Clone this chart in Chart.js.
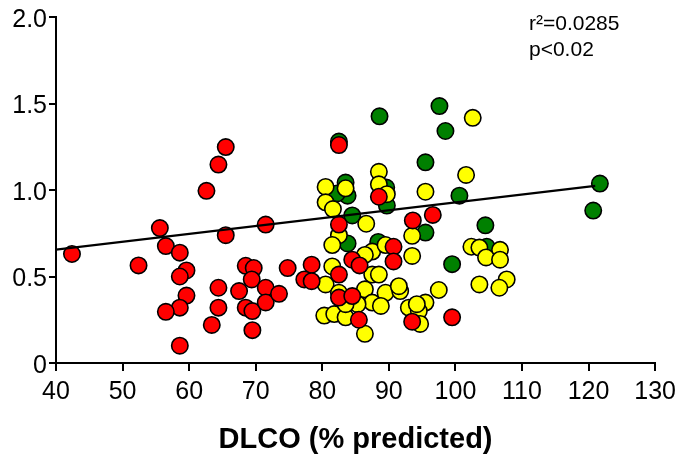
<!DOCTYPE html>
<html>
<head>
<meta charset="utf-8">
<script src="https://cdn.jsdelivr.net/npm/chart.js@4/dist/chart.umd.min.js"></script>
<style>
html,body{margin:0;padding:0;background:#fff;}
#wrap{width:682px;height:465px;position:relative;}
</style>
</head>
<body>
<div id="wrap"><canvas id="c" width="682" height="465"></canvas></div>
<script>
// Red group (DLCO %, value)
const redX = [42.4,52.4,55.6,56.5,58.6,59.6,58.6,59.6,58.6,56.5,58.6,62.6,64.4,65.5,65.5,64.4,64.4,63.4,67.5,68.5,69.7,69.4,68.5,69.5,69.5,71.5,71.5,73.5,71.5,74.8,
  82.5,88.5,82.5,93.6,96.6,78.4,77.3,78.4,82.5,84.5,85.6,90.7,90.7,93.5,99.5,85.5,82.5,84.5];
const redY = [0.63,0.564,0.78,0.676,0.638,0.535,0.50,0.39,0.32,0.296,0.10,0.995,1.147,1.248,0.739,0.435,0.32,0.22,0.416,0.562,0.549,0.483,0.32,0.30,0.19,0.435,0.35,0.40,0.80,0.549,
  1.26,0.961,0.80,0.824,0.856,0.568,0.483,0.473,0.511,0.597,0.564,0.672,0.587,0.239,0.264,0.25,0.378,0.387];
// Yellow group
const yellowX = [102.6,101.6,95.5,88.5,88.5,89.7,80.5,83.5,80.5,81.6,86.6,82.5,93.5,81.5,81.5,80.5,87.5,86.4,89.5,93.5,87.5,88.5,86.4,89.5,91.7,91.5,87.5,88.8,95.5,97.5,93.0,94.5,94.7,80.3,81.8,83.5,86.4,82.5,85.3,83.5,94.2,102.4,103.6,106.7,104.6,106.7,107.7,103.6,106.6];
const yellowY = [1.417,1.087,0.99,1.105,1.033,0.976,1.018,1.01,0.929,0.89,0.805,0.739,0.735,0.682,0.558,0.454,0.644,0.625,0.682,0.619,0.511,0.511,0.426,0.406,0.416,0.444,0.349,0.33,0.349,0.422,0.32,0.30,0.226,0.274,0.283,0.264,0.169,0.406,0.34,0.34,0.34,0.672,0.667,0.654,0.61,0.597,0.483,0.454,0.435];
// Green group
const greenX = [88.6,97.6,98.5,82.5,95.5,100.6,89.6,89.7,83.5,83.8,82.2,84.5,95.5,104.5,83.8,88.4,99.5,121.7,120.7,104.7];
const greenY = [1.426,1.485,1.341,1.28,1.16,0.967,1.014,0.91,1.043,0.967,0.98,0.853,0.754,0.796,0.691,0.70,0.571,1.037,0.881,0.672];
// Regression line end points
const fitX = [40,121];
const fitY = [0.655,1.024];
// Axis ticks
const xTicks = [40,50,60,70,80,90,100,110,120,130];
const yTicks = [0,0.5,1.0,1.5,2.0];
const annotations = ['r²=0.0285','p<0.02'];
const xTitle = 'DLCO (% predicted)';

const toPts = (xs, ys) => xs.map((x, i) => ({x: x, y: ys[i]}));
const FONT = "'Liberation Sans', Arial, sans-serif";

const pointStyle = (color) => ({
  type: 'scatter', backgroundColor: color, borderColor: '#000', borderWidth: 1.6,
  pointRadius: 8.2, pointHoverRadius: 8.2
});

const annotPlugin = {
  id: 'annot',
  afterDraw(chart) {
    const ctx = chart.ctx;
    ctx.save();
    ctx.fillStyle = '#000';
    ctx.font = "21px " + FONT;
    ctx.textBaseline = 'middle';
    ctx.textAlign = 'left';
    ctx.fillText(annotations[0], 529, 24);
    ctx.fillText(annotations[1], 529, 50);
    ctx.restore();
  }
};

new Chart(document.getElementById('c'), {
  data: {
    datasets: [
      {type: 'line', data: toPts(fitX, fitY), borderColor: '#000', borderWidth: 2.2, pointRadius: 0, fill: false, tension: 0},
      Object.assign({data: toPts(redX, redY)}, pointStyle('#ff0000')),
      Object.assign({data: toPts(yellowX, yellowY)}, pointStyle('#ffff00')),
      Object.assign({data: toPts(greenX, greenY)}, pointStyle('#008000'))
    ]
  },
  options: {
    responsive: false,
    animation: false,
    events: [],
    layout: {padding: {left: 0, right: 25, top: 12, bottom: 0}},
    plugins: {legend: {display: false}, tooltip: {enabled: false}},
    scales: {
      x: {
        type: 'linear', min: 40, max: 130,
        afterBuildTicks: (s) => { s.ticks = xTicks.map(v => ({value: v})); },
        afterFit: (s) => { s.height = 102; },
        border: {color: '#000', width: 2},
        grid: {drawOnChartArea: false, drawTicks: true, tickLength: 8, color: '#000', lineWidth: 2},
        ticks: {color: '#000', font: {family: FONT, size: 25}, padding: 6, maxRotation: 0, autoSkip: false},
        title: {display: true, text: xTitle, color: '#000', font: {family: FONT, size: 29, weight: 'bold'}, padding: {top: 0, bottom: 8}}
      },
      y: {
        type: 'linear', min: 0, max: 2,
        afterBuildTicks: (s) => { s.ticks = yTicks.map(v => ({value: v})); },
        afterFit: (s) => { s.width = 56; },
        border: {color: '#000', width: 2},
        grid: {drawOnChartArea: false, drawTicks: true, tickLength: 7, color: '#000', lineWidth: 2},
        ticks: {color: '#000', font: {family: FONT, size: 25}, padding: 2, labelOffset: 3,
          callback: (v) => v === 0 ? '0' : v.toFixed(1)}
      }
    }
  },
  plugins: [annotPlugin]
});
</script>
</body>
</html>
